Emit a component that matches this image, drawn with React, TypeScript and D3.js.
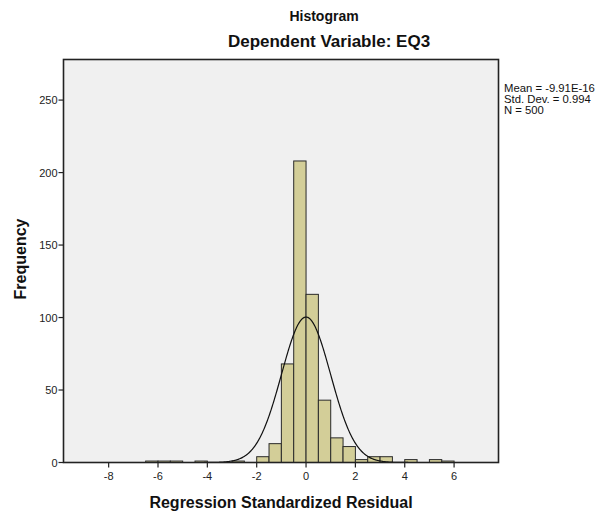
import React from "react";
import * as d3 from "d3";

// Histogram bins (lower edges, width 0.5) and their frequencies
const binStarts = [-6.5, -6, -5.5, -4.5, -3, -2, -1.5, -1, -0.5, 0, 0.5, 1, 1.5, 2, 2.5, 3, 4, 5, 5.5];
const counts = [1, 1, 1, 1, 1, 4, 13, 68, 208, 116, 43, 17, 11, 2, 4, 4, 2, 2, 1];
const binWidth = 0.5;
const xTicks = [-8, -6, -4, -2, 0, 2, 4, 6];
const yTicks = [0, 50, 100, 150, 200, 250];
const statLines = ["Mean = -9.91E-16", "Std. Dev. = 0.994", "N = 500"];
const mean = -9.91e-16;
const sd = 0.994;
const n = 500;

const W = 597;
const H = 514;
const left = 63.5;
const right = 498.5;
const top = 59.5;
const bottom = 462.5;
const font = "Arial, 'Liberation Sans', sans-serif";

export default function App() {
  const x = d3.scaleLinear().domain([-9.83, 7.8]).range([left, right]);
  const y = d3.scaleLinear().domain([0, 278]).range([bottom, top]);

  const curveXs = d3.range(-9.83, 7.8, 0.02);
  const pdf = (v: number) =>
    (n * binWidth) / (sd * Math.sqrt(2 * Math.PI)) * Math.exp(-0.5 * ((v - mean) / sd) ** 2);
  const line = d3
    .line<number>()
    .x((v) => x(v))
    .y((v) => y(pdf(v)))
    .curve(d3.curveLinear);

  return (
    <svg
      width={W}
      height={H}
      style={{ position: "absolute", left: 0, top: 0, background: "#fff" }}
      fontFamily={font}
    >
      <text x={324} y={21} textAnchor="middle" fontSize={14} fontWeight="bold" fill="#111">
        Histogram
      </text>
      <text x={329} y={47} textAnchor="middle" fontSize={17} fontWeight="bold" fill="#111">
        Dependent Variable: EQ3
      </text>

      <rect x={left} y={top} width={right - left} height={bottom - top} fill="#f0f0f0" />

      {binStarts.map((b, i) => (
        <rect
          key={i}
          x={x(b)}
          y={y(counts[i])}
          width={x(b + binWidth) - x(b)}
          height={y(0) - y(counts[i])}
          fill="#d3ce98"
          stroke="#2a2a2a"
          strokeWidth={1}
        />
      ))}

      <path d={line(curveXs) || ""} fill="none" stroke="#111" strokeWidth={1.2} />

      <rect
        x={left}
        y={top}
        width={right - left}
        height={bottom - top}
        fill="none"
        stroke="#222"
        strokeWidth={1.6}
      />

      {yTicks.map((t) => (
        <g key={t}>
          <line x1={left - 5} x2={left} y1={y(t)} y2={y(t)} stroke="#222" strokeWidth={1.2} />
          <text x={left - 6} y={y(t) + 4} textAnchor="end" fontSize={11} fill="#222">
            {t}
          </text>
        </g>
      ))}
      {xTicks.map((t) => (
        <g key={t}>
          <line x1={x(t)} x2={x(t)} y1={bottom} y2={bottom + 5} stroke="#222" strokeWidth={1.2} />
          <text x={x(t)} y={bottom + 17} textAnchor="middle" fontSize={11} fill="#222">
            {t}
          </text>
        </g>
      ))}

      <text
        transform={`translate(26, 259) rotate(-90)`}
        textAnchor="middle"
        fontSize={16}
        fontWeight="bold"
        fill="#111"
      >
        Frequency
      </text>
      <text x={281} y={508} textAnchor="middle" fontSize={16} fontWeight="bold" fill="#111">
        Regression Standardized Residual
      </text>

      {statLines.map((s, i) => (
        <text key={i} x={504} y={92 + i * 11} fontSize={11.3} fill="#111">
          {s}
        </text>
      ))}
    </svg>
  );
}
